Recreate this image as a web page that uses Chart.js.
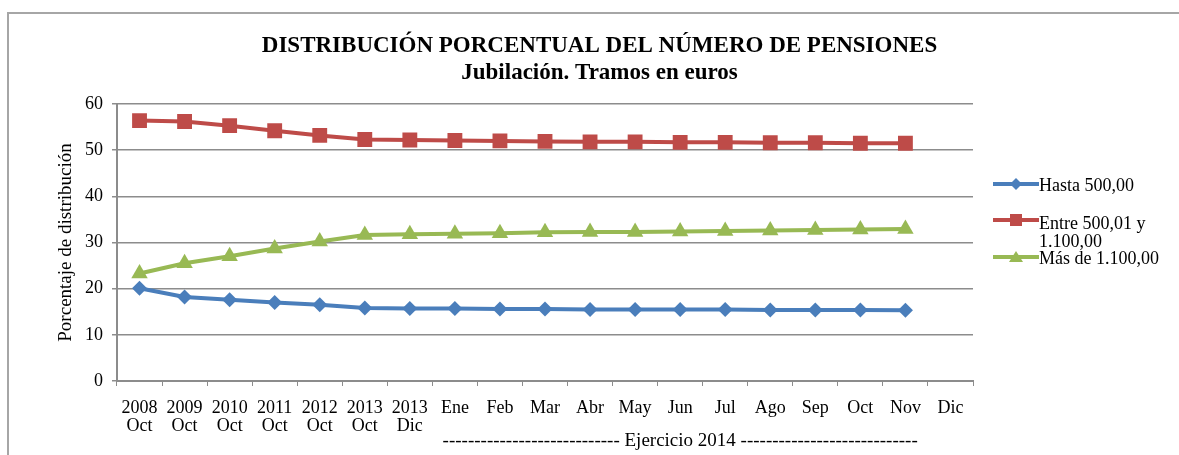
<!DOCTYPE html>
<html>
<head>
<meta charset="utf-8">
<script src="https://cdn.jsdelivr.net/npm/chart.js@4/dist/chart.umd.min.js"></script>
<style>
  html, body { margin: 0; padding: 0; background: #fff; }
  body { width: 1179px; height: 455px; position: relative; overflow: hidden; font-family: "Liberation Serif", "Times New Roman", serif; }
  .frame { position: absolute; left: 7px; top: 12px; width: 1200px; height: 500px; border-top: 2px solid #a6a6a6; border-left: 2px solid #a6a6a6; }
  #wrap { position: absolute; left: 0; top: 0; width: 1179px; height: 455px; }
  .legend { position: absolute; left: 993px; top: 0; font-size: 18px; color: #000; }
  .legend .item { position: absolute; left: 0; white-space: nowrap; }
  .legend svg { position: absolute; left: 0; }
  .legend span { position: absolute; left: 46px; line-height: 18px; }
</style>
</head>
<body>
<div class="frame"></div>
<div id="wrap"><canvas id="chart" width="1179" height="455"></canvas></div>
<div class="legend" id="legend"></div>
<script>
// categories (two-line tick labels)
const categories = [
  ['2008', 'Oct'], ['2009', 'Oct'], ['2010', 'Oct'], ['2011', 'Oct'], ['2012', 'Oct'],
  ['2013', 'Oct'], ['2013', 'Dic'], 'Ene', 'Feb', 'Mar', 'Abr', 'May', 'Jun',
  'Jul', 'Ago', 'Sep', 'Oct', 'Nov', 'Dic'
];

// series values (%), last month (Dic 2014) has no data
const hasta500 = [20.1, 18.2, 17.6, 17.0, 16.5, 15.8, 15.7, 15.7, 15.6, 15.6, 15.5, 15.5, 15.5, 15.5, 15.4, 15.4, 15.4, 15.3, null];
const entre500y1100 = [56.4, 56.2, 55.3, 54.2, 53.2, 52.3, 52.2, 52.1, 52.0, 51.9, 51.8, 51.8, 51.7, 51.7, 51.6, 51.6, 51.5, 51.5, null];
const masDe1100 = [23.3, 25.5, 27.0, 28.7, 30.2, 31.6, 31.8, 31.9, 32.0, 32.2, 32.3, 32.3, 32.4, 32.5, 32.6, 32.7, 32.8, 32.9, null];

const yTicks = [0, 10, 20, 30, 40, 50, 60];
const seriesNames = ['Hasta 500,00', 'Entre 500,01 y 1.100,00', 'Más de 1.100,00'];
const ejercicioText = '---------------------------- Ejercicio 2014 ----------------------------';

const blue = '#4a7ebb';
const red = '#be4b48';
const green = '#98b954';
const gridColor = '#8c8c8c';
const serif = '"Liberation Serif", "Times New Roman", serif';

// text under the 2014 months
const ejercicioPlugin = {
  id: 'ejercicio',
  afterDraw(chart) {
    const x = chart.scales.x;
    const cx = (x.getPixelForValue(7) + x.getPixelForValue(17)) / 2;
    const ctx = chart.ctx;
    ctx.save();
    ctx.font = '19px ' + serif;
    ctx.fillStyle = '#000';
    ctx.textAlign = 'center';
    ctx.textBaseline = 'middle';
    ctx.fillText(ejercicioText, cx, 441);
    ctx.restore();
  }
};

const ds = (label, data, color, style, radius) => ({
  label, data,
  borderColor: color, backgroundColor: color,
  borderWidth: 4, pointStyle: style, pointRadius: radius, pointHoverRadius: radius,
  pointBorderWidth: 0, tension: 0, spanGaps: false
});

new Chart(document.getElementById('chart'), {
  type: 'line',
  data: {
    labels: categories,
    datasets: [
      ds(seriesNames[0], hasta500, blue, 'rectRot', 7.5),
      ds(seriesNames[1], entre500y1100, red, 'rect', 10.5),
      ds(seriesNames[2], masDe1100, green, 'triangle', 9.5)
    ]
  },
  options: {
    responsive: false,
    animation: false,
    devicePixelRatio: 1,
    layout: { padding: { left: 20, right: 0, top: 0, bottom: 0 } },
    plugins: {
      legend: { display: false },
      tooltip: { enabled: false },
      title: {
        display: true,
        text: 'DISTRIBUCIÓN PORCENTUAL DEL NÚMERO DE PENSIONES',
        color: '#000',
        font: { family: serif, size: 23, weight: 'bold', lineHeight: 1.2 },
        padding: { top: 32, bottom: 0 }
      },
      subtitle: {
        display: true,
        text: 'Jubilación. Tramos en euros',
        color: '#000',
        font: { family: serif, size: 23, weight: 'bold', lineHeight: 1.2 },
        padding: { top: 0, bottom: 16.8 }
      }
    },
    scales: {
      x: {
        offset: true,
        afterFit(scale) { scale.height = 74; },
        grid: { offset: true, drawOnChartArea: false, drawTicks: true, tickLength: 5, color: gridColor, lineWidth: 1 },
        border: { color: gridColor, width: 2 },
        ticks: { color: '#000', font: { family: serif, size: 18, lineHeight: 1.0 }, maxRotation: 0, autoSkip: false, padding: 13 }
      },
      y: {
        min: 0, max: 60,
        afterFit(scale) { scale.width = 97; },
        afterBuildTicks(scale) { scale.ticks = yTicks.map(v => ({ value: v })); },
        grid: { color: gridColor, lineWidth: 1.5, tickLength: 5 },
        border: { color: gridColor, width: 2 },
        ticks: { color: '#000', font: { family: serif, size: 18 }, padding: 9 },
        title: {
          display: true,
          text: 'Porcentaje de distribución',
          color: '#000',
          font: { family: serif, size: 19, lineHeight: 1.0 },
          padding: { top: 37, bottom: 0 }
        }
      },
      // empty box on the right that reserves room for the legend
      legendSpace: {
        position: 'right',
        min: 0, max: 1,
        afterFit(scale) { scale.width = 206; },
        grid: { display: false },
        border: { display: false },
        ticks: { display: false }
      }
    }
  },
  plugins: [ejercicioPlugin]
});

// legend (right side), Excel-like layout with wrapped second entry
const legendItems = [
  { name: 'Hasta 500,00', color: blue, marker: 'diamond', lineY: 184, textTop: 176 },
  { name: 'Entre 500,01 y<br>1.100,00', color: red, marker: 'square', lineY: 220, textTop: 214 },
  { name: 'Más de 1.100,00', color: green, marker: 'triangle', lineY: 257, textTop: 249 }
];
const legend = document.getElementById('legend');
legendItems.forEach(it => {
  let mk = '';
  if (it.marker === 'diamond') mk = `<polygon points="23,2 29,8 23,14 17,8" fill="${it.color}"/>`;
  if (it.marker === 'square') mk = `<rect x="17" y="2" width="12" height="12" fill="${it.color}"/>`;
  if (it.marker === 'triangle') mk = `<polygon points="23,2 30,13 16,13" fill="${it.color}"/>`;
  const svg = `<svg width="46" height="16" style="top:${it.lineY - 8}px"><line x1="0" y1="8" x2="46" y2="8" stroke="${it.color}" stroke-width="4"/>${mk}</svg>`;
  const d = document.createElement('div');
  d.className = 'item';
  d.innerHTML = svg + `<span style="top:${it.textTop}px">${it.name}</span>`;
  legend.appendChild(d);
});
</script>
</body>
</html>
